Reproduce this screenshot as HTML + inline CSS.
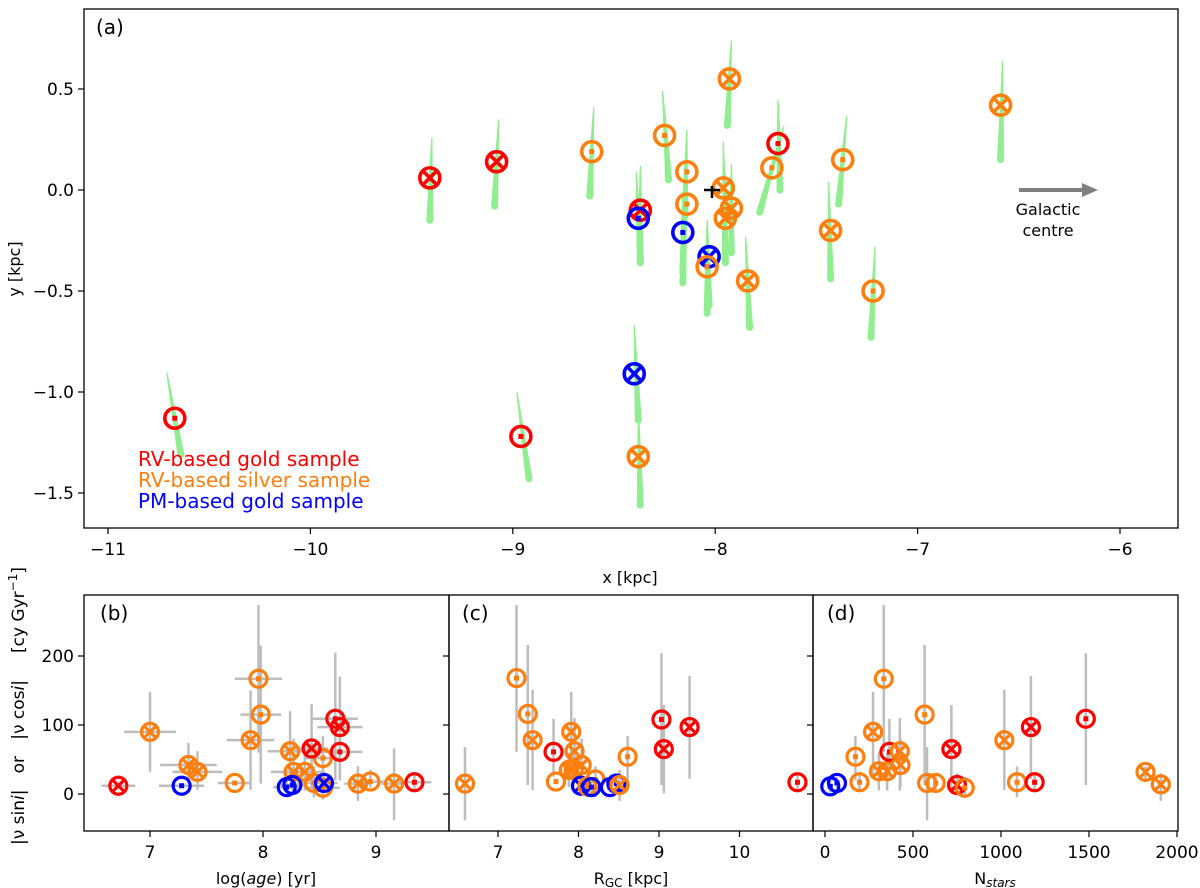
<!DOCTYPE html>
<html><head><meta charset="utf-8"><style>
html,body{margin:0;padding:0;background:#fff;}
svg{display:block;font-family:"DejaVu Sans","Liberation Sans",sans-serif;}
</style></head><body>
<svg id="fig" width="1200" height="888" viewBox="0 0 1200 888" xmlns="http://www.w3.org/2000/svg">
<rect x="0" y="0" width="1200" height="888" fill="#fff"/>
<g id="streaks"></g><g id="marksA"></g>
<g id="panelB"></g><g id="panelC"></g><g id="panelD"></g>
<g id="axes"></g>
</svg>
<script>
// ---- Panel (a) data ----
const aX = [-9.41,-9.08,-10.67,-8.96,-8.37,-7.69,-8.38,-8.16,-8.03,-8.40,-8.61,-8.25,-8.14,-8.14,-7.93,-7.96,-7.92,-7.95,-8.04,-7.72,-7.84,-7.37,-7.43,-7.22,-6.59,-8.38];
const aY = [0.06,0.14,-1.13,-1.22,-0.10,0.23,-0.14,-0.21,-0.33,-0.91,0.19,0.27,0.09,-0.07,0.55,0.01,-0.09,-0.14,-0.38,0.11,-0.45,0.15,-0.20,-0.50,0.42,-1.32];
const aSample = ['r','r','r','r','r','r','b','b','b','b','o','o','o','o','o','o','o','o','o','o','o','o','o','o','o','o'];
const aCross = [1,1,0,0,1,0,0,0,1,1,0,0,0,0,1,1,1,1,0,0,1,0,1,0,1,1];
const aTopDx = [0.01,0.01,-0.04,-0.02,0,0,-0.01,0,-0.01,0,0.01,-0.01,0,0,0.01,0,0,0,0,0.06,-0.01,0.02,-0.01,0.01,0.01,0];
const aTopDy = [0.20,0.21,0.23,0.22,0.22,0.22,0.23,0.20,0.18,0.24,0.22,0.22,0.21,0.22,0.19,0.23,0.22,0.22,0.23,0.21,0.22,0.22,0.24,0.22,0.22,0.23];
const aBotDx = [0,-0.01,0.03,0.04,0,0.01,0.01,0,0,0.02,-0.01,0.02,-0.01,-0.02,-0.01,0.01,0,0,0,-0.06,0.01,-0.02,0,-0.01,0,0.01];
const aBotDy = [-0.21,-0.22,-0.18,-0.21,-0.26,-0.23,-0.22,-0.20,-0.24,-0.23,-0.22,-0.22,-0.22,-0.39,-0.23,-0.37,-0.22,-0.21,-0.23,-0.22,-0.23,-0.22,-0.24,-0.23,-0.27,-0.24];
const aXTicks = [-11,-10,-9,-8,-7,-6];
const aYTicks = [0.5,0.0,-0.5,-1.0,-1.5];

// ---- Bottom panels data ----
const bAge = [6.72,7.00,7.28,7.34,7.42,7.75,7.89,7.96,7.98,8.24,8.27,8.37,8.45,8.21,8.26,8.53,8.53,8.54,8.43,8.64,8.68,8.68,8.84,8.95,9.16,9.34];
const bV   = [12,90,12,42,32,16,78,167,115,62,32,32,16,10,13,52,9,16,66,109,97,61,15,18,15,17];
const bAgeErr = [0.15,0.23,0.20,0.25,0.22,0.15,0.21,0.21,0.18,0.20,0.20,0.18,0.15,0.12,0.12,0.15,0.15,0.12,0.15,0.20,0.20,0.20,0.12,0.15,0.12,0.15];
const bVUp = [12,148,12,74,62,16,150,274,215,120,80,70,40,22,25,84,30,30,130,205,170,110,40,35,66,32];
const bVLo = [12,32,12,16,6,16,6,60,15,30,5,5,-5,2,5,20,-8,5,10,20,20,20,-10,10,-38,5];
const bSample = ['r','o','b','o','o','o','o','o','o','o','o','o','o','b','b','o','o','b','r','r','r','r','o','o','o','r'];
const bCross = [1,1,0,1,1,0,1,0,0,1,1,1,0,0,0,0,0,1,1,0,1,0,1,0,1,0];

const cR = [6.59,7.23,7.37,7.43,7.69,7.72,7.91,7.95,8.04,7.88,7.94,8.03,8.11,8.21,8.16,8.39,8.47,8.51,8.61,9.03,9.06,9.38,10.72];
const cV = [15,168,116,78,61,18,90,62,42,35,35,12,11,21,10,10,15,13,54,108,65,97,17];
const cVUp = [68,274,216,151,109,18,148,110,80,60,60,20,25,40,20,20,30,35,84,204,129,171,30];
const cVLo = [-38,61,13,6,25,18,25,25,10,10,10,5,-5,-5,2,2,2,-10,20,13,1,22,5];
const cSample = ['o','o','o','o','r','o','o','o','o','o','o','b','o','o','b','b','b','o','o','r','r','r','r'];
const cCross = [1,0,0,1,0,0,1,1,1,1,1,1,0,0,0,0,0,1,0,0,1,1,0];

const dN = [30,68,173,196,273,334,306,353,366,425,429,566,580,629,718,750,794,1019,1091,1191,1170,1482,1821,1908];
const dV = [11,16,54,17,90,167,33,33,61,62,42,115,16,16,65,13,9,78,17,17,97,109,32,14];
const dVUp = [20,25,84,30,148,274,60,60,109,110,80,216,68,30,129,30,25,151,40,30,171,204,40,30];
const dVLo = [2,5,20,5,25,61,5,5,25,5,10,13,-38,5,1,5,-5,6,-5,5,22,13,20,-10];
const dSample = ['b','b','o','o','o','o','o','o','r','o','o','o','o','o','r','r','o','o','o','r','r','r','o','o'];
const dCross = [0,0,0,0,1,0,1,1,0,1,1,0,0,0,1,1,0,1,0,0,1,0,1,1];

const bXTicks=[7,8,9], cXTicks=[7,8,9,10], dXTicks=[0,500,1000,1500,2000], vTicks=[200,100,0];

const COL={r:'#ff0000',o:'#ff7f0e',b:'#0000ff'};
const NS='http://www.w3.org/2000/svg';
function mk(tag,attrs,parent,text){const e=document.createElementNS(NS,tag);for(const k in attrs)e.setAttribute(k,attrs[k]);if(text!==undefined)e.textContent=text;parent.appendChild(e);return e;}

const ax=x=>108+(x+11)*202.4, ay=y=>190-y*202;
const vy=v=>794-v*0.69;
const bx=a=>150+(a-7)*113, cx=r=>498+(r-7)*80.5, dx=n=>825+n*0.176;

const streaks=document.getElementById('streaks');
const marksA=document.getElementById('marksA');
function marker(parent,px,py,s,cross,r,sw,name){
  const g=mk('g',{},parent);
  
  
  const c=COL[s];
  mk('circle',{cx:px,cy:py,r:r,fill:'none',stroke:c,'stroke-width':sw},g);
  if(cross){const d=r*0.68;
    mk('line',{x1:px-d,y1:py-d,x2:px+d,y2:py+d,stroke:c,'stroke-width':sw},g);
    mk('line',{x1:px-d,y1:py+d,x2:px+d,y2:py-d,stroke:c,'stroke-width':sw},g);
  } else {mk('rect',{x:px-2.5,y:py-2.5,width:5,height:5,fill:c},g);}
}
for(let i=0;i<aX.length;i++){
  const x1=ax(aX[i]+aTopDx[i]),y1=ay(aY[i]+aTopDy[i]),x2=ax(aX[i]+aBotDx[i]),y2=ay(aY[i]+aBotDy[i]);
  const L=Math.hypot(x2-x1,y2-y1),nx=-(y2-y1)/L,ny=(x2-x1)/L,w0=0.6,w1=3.5;
  const p=mk('path',{d:`M${x1+nx*w0},${y1+ny*w0} L${x2+nx*w1},${y2+ny*w1} L${x2-nx*w1},${y2-ny*w1} L${x1-nx*w0},${y1-ny*w0}Z`,fill:'#90ee90'},streaks);
  
  
  const e=mk('circle',{cx:x2,cy:y2,r:w1,fill:'#90ee90'},streaks);
  
  
}
for(let i=0;i<aX.length;i++) marker(marksA,ax(aX[i]),ay(aY[i]),aSample[i],aCross[i],10,3.6,'star-marker');

function errPanel(gid,xs,vs,up,lo,samp,cross,xf,xerr){
  const g=document.getElementById(gid);
  for(let i=0;i<xs.length;i++){
    const px=xf(xs[i]);
    const l=mk('line',{x1:px,x2:px,y1:vy(up[i]),y2:vy(lo[i]),stroke:'#bdbdbd','stroke-width':2.5},g);
    
    
    if(xerr){const h=mk('line',{x1:xf(xs[i]-xerr[i]),x2:xf(xs[i]+xerr[i]),y1:vy(vs[i]),y2:vy(vs[i]),stroke:'#bdbdbd','stroke-width':2.5},g);
      
      }
  }
  for(let i=0;i<xs.length;i++) marker(g,xf(xs[i]),vy(vs[i]),samp[i],cross[i],8.5,3.2,'star-marker');
}
errPanel('panelB',bAge,bV,bVUp,bVLo,bSample,bCross,bx,bAgeErr);
errPanel('panelC',cR,cV,cVUp,cVLo,cSample,cCross,cx,null);
errPanel('panelD',dN,dV,dVUp,dVLo,dSample,dCross,dx,null);

const A=document.getElementById('axes');
function frame(x,y,w,h,name){const r=mk('rect',{x:x,y:y,width:w,height:h,fill:'none',stroke:'#000','stroke-width':1.3},A);
  
  }
frame(84,9,1094,519,'panel-a-frame');
frame(84,595,365,236,'panel-b-frame');
frame(449,595,364,236,'panel-c-frame');
frame(813,595,365,236,'panel-d-frame');
function txt(x,y,s,size,anchor,fill,name,extra){const t=mk('text',Object.assign({x:x,y:y,'font-size':size,'text-anchor':anchor||'middle',fill:fill||'#000'},extra||{}),A);t.innerHTML=s;
  
  return t;}
aXTicks.forEach(v=>{const p=ax(v);mk('line',{x1:p,x2:p,y1:528,y2:534,stroke:'#000','stroke-width':1.2},A);txt(p,555,(v<0?'\u2212':'')+Math.abs(v),17,'middle','#000','x-tick-label');});
aYTicks.forEach(v=>{const p=ay(v);mk('line',{x1:78,x2:84,y1:p,y2:p,stroke:'#000','stroke-width':1.2},A);txt(74,p+6,(v<0?'\u2212':'')+Math.abs(v).toFixed(1),17,'end','#000','y-tick-label');});
txt(630,583,'x [kpc]',16,'middle','#000','x-axis-title');
txt(0,0,'y [kpc]',16,'middle','#000','y-axis-title',{transform:'translate(20,269) rotate(-90)'});
txt(96,34,'(a)',20,'start','#000','panel-a-label');
txt(138,466,'RV-based gold sample',20,'start','#ff0000','legend-rv-gold');
txt(138,487,'RV-based silver sample',20,'start','#ff7f0e','legend-rv-silver');
txt(138,508,'PM-based gold sample',20,'start','#0000ff','legend-pm-gold');
mk('line',{x1:704,x2:720,y1:190,y2:190,stroke:'#000','stroke-width':2.5},A);
mk('line',{x1:712,x2:712,y1:186,y2:198,stroke:'#000','stroke-width':2.5},A);
const arr=mk('g',{},A);


mk('line',{x1:1019,x2:1084,y1:190,y2:190,stroke:'#808080','stroke-width':4},arr);
mk('path',{d:'M1082,183 L1098,190 L1082,197 Z',fill:'#808080'},arr);
txt(1048,215,'Galactic',16,'middle','#000','galactic-label');
txt(1048,236,'centre',16,'middle','#000','centre-label');
function xt(ticks,f,name){ticks.forEach(v=>{const p=f(v);mk('line',{x1:p,x2:p,y1:831,y2:837,stroke:'#000','stroke-width':1.2},A);txt(p,858,String(v),17,'middle','#000',name);});}
xt(bXTicks,bx,'b-x-tick');xt(cXTicks,cx,'c-x-tick');xt(dXTicks,dx,'d-x-tick');
[84,449,813].forEach((L,k)=>{vTicks.forEach(v=>{const p=vy(v);mk('line',{x1:L-6,x2:L,y1:p,y2:p,stroke:'#000','stroke-width':1.2},A);if(k===0)txt(74,p+6,String(v),17,'end','#000','v-tick-label');});});
txt(100,620,'(b)',20,'start','#000','panel-b-label');
txt(462,620,'(c)',20,'start','#000','panel-c-label');
txt(827,620,'(d)',20,'start','#000','panel-d-label');
txt(266,884,'log(<tspan font-style="italic">age</tspan>) [yr]',16,'middle','#000','b-x-title');
txt(631,884,'R<tspan font-size="12" dy="3">GC</tspan><tspan dy="-3"> [kpc]</tspan>',16,'middle','#000','c-x-title');
txt(995,884,'N<tspan font-size="12" dy="3" font-style="italic">stars</tspan>',16,'middle','#000','d-x-title');
txt(0,0,'|ν sin<tspan font-style="italic">i</tspan>|   or   |ν cos<tspan font-style="italic">i</tspan>|     [cy Gyr<tspan font-size="12" dy="-7">−1</tspan><tspan dy="7">]</tspan>',17,'middle','#000','v-axis-title',{transform:'translate(24,706) rotate(-90)',style:'white-space:pre'});
</script>
</body></html>
